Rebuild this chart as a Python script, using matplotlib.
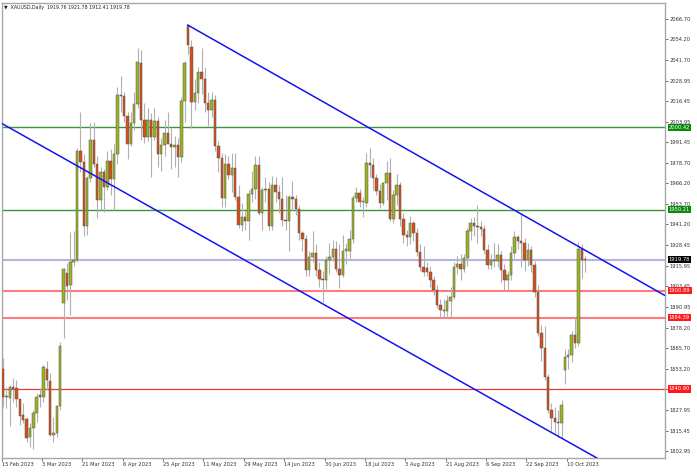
import numpy as np
import matplotlib.pyplot as plt
from matplotlib.transforms import blended_transform_factory

# daily OHLC, 15 Feb 2023 .. 17 Oct 2023 (one entry per bar)
opens = [1853.0, 1835.7, 1835.1, 1841.8, 1841.6, 1834.5, 1824.9, 1822.3, 1811.7, 1816.8,
         1826.3, 1837.1, 1835.7, 1853.2, 1845.9, 1812.7, 1813.7, 1830.4, 1893.4, 1911.3,
         1904.2, 1918.0, 1919.5, 1986.2, 1979.0, 1940.0, 1969.5, 1993.0, 1978.0, 1956.0,
         1973.0, 1964.0, 1980.0, 1969.0, 1984.0, 2020.0, 2019.5, 2007.5, 1990.5, 2003.3,
         2014.6, 2039.9, 2004.9, 1994.7, 2004.9, 1994.3, 2004.5, 1984.0, 1989.6, 1997.0,
         1990.0, 1988.5, 1989.5, 1982.5, 2016.6, 2062.2, 2049.6, 2016.0, 2021.5, 2034.4,
         2030.0, 2015.0, 2011.0, 2017.0, 1989.0, 1982.0, 1957.5, 1978.0, 1971.3, 1975.5,
         1958.0, 1941.0, 1946.0, 1943.0, 1959.7, 1963.0, 1977.4, 1948.0, 1962.2, 1963.0,
         1940.0, 1965.5, 1961.0, 1957.0, 1944.0, 1943.0, 1958.0, 1957.0, 1950.4, 1935.7,
         1932.1, 1913.4, 1921.5, 1923.5, 1913.4, 1907.7, 1907.3, 1919.5, 1921.5, 1926.0,
         1914.0, 1910.3, 1925.2, 1925.2, 1932.1, 1957.1, 1960.2, 1955.0, 1954.5, 1978.5,
         1977.4, 1969.3, 1961.6, 1954.0, 1966.3, 1972.4, 1944.3, 1959.1, 1965.2, 1944.3,
         1934.7, 1933.7, 1941.8, 1936.2, 1924.6, 1915.4, 1914.4, 1912.3, 1907.3, 1901.2,
         1892.0, 1889.0, 1888.5, 1894.5, 1897.0, 1915.4, 1917.0, 1914.0, 1920.5, 1937.5,
         1942.0, 1940.0, 1939.8, 1938.5, 1925.6, 1916.4, 1919.5, 1918.8, 1922.5, 1913.4,
         1907.3, 1910.3, 1923.5, 1933.7, 1931.0, 1929.7, 1919.5, 1925.6, 1916.4, 1900.2,
         1874.7, 1865.6, 1848.3, 1827.9, 1822.9, 1820.8, 1819.8, 1852.4, 1860.5, 1861.5,
         1873.7, 1868.6, 1926.5, 1919.76]
highs = [1859.5, 1842.2, 1843.0, 1847.3, 1846.3, 1835.0, 1832.0, 1823.9, 1819.8, 1828.0,
         1838.1, 1841.2, 1855.4, 1858.1, 1850.4, 1823.9, 1831.0, 1869.7, 1914.4, 1917.4,
         1936.8, 1937.0, 1987.6, 2010.0, 1984.0, 1971.0, 2003.0, 2003.5, 1983.0, 1976.0,
         1975.0, 1986.0, 1987.0, 1990.0, 2025.0, 2032.0, 2022.0, 2010.0, 2010.0, 2022.0,
         2048.6, 2047.6, 2015.0, 2012.0, 2009.0, 2012.0, 2007.0, 1994.0, 2005.0, 2010.0,
         2000.0, 1995.0, 1994.0, 2019.0, 2041.0, 2063.0, 2053.7, 2030.0, 2037.0, 2048.6,
         2037.0, 2022.0, 2022.0, 2020.0, 1992.0, 1985.0, 1984.0, 1983.0, 1985.0, 1985.0,
         1965.0, 1954.0, 1949.5, 1962.0, 1974.0, 1983.0, 1983.0, 1964.0, 1970.0, 1967.0,
         1971.0, 1970.0, 1965.0, 1970.0, 1959.0, 1959.0, 1968.0, 1959.0, 1953.0, 1937.0,
         1935.0, 1925.0, 1937.0, 1929.0, 1918.0, 1913.0, 1922.0, 1930.0, 1932.0, 1931.0,
         1929.0, 1935.0, 1930.0, 1938.0, 1959.0, 1964.0, 1963.0, 1958.0, 1984.6, 1987.6,
         1982.0, 1972.0, 1966.0, 1967.0, 1980.0, 1982.0, 1962.0, 1972.0, 1967.0, 1948.0,
         1938.0, 1946.5, 1943.0, 1939.0, 1929.0, 1928.0, 1918.0, 1916.0, 1910.0, 1904.0,
         1896.0, 1896.0, 1898.0, 1903.0, 1918.0, 1922.0, 1923.0, 1923.0, 1939.0, 1945.0,
         1946.0, 1953.0, 1943.0, 1941.0, 1929.0, 1923.0, 1930.0, 1929.0, 1925.0, 1917.0,
         1913.0, 1928.0, 1937.0, 1935.0, 1948.0, 1933.0, 1930.0, 1928.0, 1919.0, 1904.0,
         1880.0, 1879.0, 1850.0, 1832.0, 1830.0, 1828.0, 1834.0, 1865.0, 1865.0, 1876.0,
         1885.0, 1930.5, 1929.5, 1921.78]
lows = [1830.0, 1829.0, 1818.2, 1833.0, 1830.0, 1818.8, 1819.8, 1808.6, 1805.6, 1804.0,
        1820.9, 1830.0, 1833.1, 1840.2, 1812.3, 1808.6, 1811.7, 1828.0, 1871.7, 1895.0,
        1885.9, 1916.0, 1918.5, 1973.0, 1934.0, 1935.0, 1967.0, 1976.0, 1945.0, 1950.0,
        1949.0, 1962.0, 1959.0, 1950.0, 1978.0, 2010.0, 2004.0, 1981.0, 1989.0, 1999.0,
        2012.0, 1992.7, 1991.0, 1992.0, 1970.0, 1993.0, 1976.0, 1974.0, 1983.0, 1991.0,
        1975.0, 1976.0, 1970.0, 1979.0, 2004.0, 2045.0, 2000.0, 2011.0, 2015.0, 2021.0,
        2010.0, 2001.0, 2007.0, 1986.0, 1973.0, 1952.0, 1952.0, 1969.0, 1961.0, 1956.0,
        1939.0, 1937.0, 1938.0, 1932.0, 1955.0, 1957.0, 1947.0, 1938.0, 1955.0, 1938.0,
        1938.0, 1955.0, 1948.0, 1940.0, 1938.0, 1925.0, 1950.0, 1947.0, 1932.0, 1925.0,
        1910.0, 1910.0, 1918.0, 1910.0, 1903.0, 1894.0, 1902.0, 1911.0, 1919.0, 1912.0,
        1902.2, 1909.0, 1917.0, 1920.0, 1930.0, 1955.0, 1952.0, 1946.0, 1952.0, 1970.0,
        1962.0, 1959.0, 1951.0, 1953.0, 1956.0, 1943.0, 1942.0, 1953.0, 1940.0, 1930.0,
        1928.0, 1929.0, 1931.0, 1922.0, 1913.0, 1910.0, 1910.0, 1903.0, 1898.0, 1890.0,
        1885.0, 1885.0, 1884.0, 1885.0, 1896.0, 1911.0, 1907.0, 1912.0, 1916.0, 1932.0,
        1934.0, 1930.0, 1934.0, 1923.0, 1914.0, 1914.0, 1915.0, 1915.0, 1906.0, 1901.2,
        1901.0, 1907.0, 1921.0, 1926.0, 1915.0, 1913.0, 1916.0, 1912.0, 1897.0, 1873.0,
        1858.0, 1846.0, 1826.0, 1815.0, 1814.0, 1811.7, 1811.0, 1844.0, 1853.0, 1857.0,
        1866.0, 1867.0, 1908.3, 1912.41]
closes = [1835.7, 1836.5, 1841.8, 1840.5, 1834.5, 1824.3, 1821.9, 1810.7, 1816.8, 1826.3,
          1836.1, 1835.7, 1854.0, 1846.3, 1812.7, 1813.7, 1830.4, 1867.0, 1913.8, 1903.6,
          1918.0, 1919.5, 1986.2, 1979.0, 1940.0, 1969.5, 1993.0, 1978.0, 1956.0, 1973.0,
          1964.0, 1980.0, 1969.0, 1984.0, 2020.0, 2019.5, 2007.5, 1990.5, 2003.3, 2014.6,
          2040.5, 2004.9, 1994.7, 2004.9, 1994.3, 2004.5, 1984.0, 1989.6, 1997.0, 1990.0,
          1988.5, 1989.5, 1982.5, 2016.6, 2039.5, 2050.6, 2016.0, 2021.5, 2034.4, 2030.0,
          2015.0, 2011.0, 2017.0, 1989.0, 1982.0, 1957.5, 1978.0, 1971.3, 1975.5, 1958.0,
          1941.0, 1946.0, 1943.0, 1959.7, 1963.0, 1977.4, 1948.0, 1962.2, 1963.0, 1940.0,
          1965.5, 1961.0, 1957.0, 1944.0, 1943.0, 1958.0, 1957.0, 1950.4, 1935.7, 1932.1,
          1913.4, 1921.5, 1923.5, 1913.4, 1907.7, 1907.3, 1919.5, 1921.5, 1926.0, 1914.0,
          1910.3, 1925.2, 1926.0, 1932.1, 1957.1, 1960.2, 1955.0, 1955.5, 1978.5, 1977.4,
          1969.3, 1961.6, 1954.0, 1966.3, 1972.4, 1944.3, 1959.1, 1965.2, 1944.3, 1934.7,
          1933.7, 1941.8, 1936.2, 1924.6, 1915.4, 1912.3, 1912.3, 1907.3, 1901.2, 1892.0,
          1889.0, 1888.5, 1894.5, 1897.0, 1915.4, 1917.0, 1914.0, 1920.5, 1937.5, 1942.0,
          1940.0, 1939.8, 1938.5, 1925.6, 1916.4, 1919.5, 1918.8, 1922.5, 1913.4, 1907.3,
          1910.3, 1923.5, 1933.7, 1931.0, 1929.7, 1919.5, 1925.6, 1916.4, 1900.2, 1874.7,
          1865.6, 1848.3, 1827.9, 1822.9, 1820.8, 1819.8, 1831.0, 1860.5, 1861.5, 1873.7,
          1868.6, 1926.5, 1919.76, 1919.78]

# date labels every 12 bars
date_ticks = [0, 12, 24, 36, 48, 60, 72, 84, 96, 108, 120, 132, 144, 156, 168]
date_labels = ['15 Feb 2023', '3 Mar 2023', '21 Mar 2023', '6 Apr 2023', '25 Apr 2023',
               '11 May 2023', '29 May 2023', '14 Jun 2023', '30 Jun 2023', '18 Jul 2023',
               '3 Aug 2023', '21 Aug 2023', '6 Sep 2023', '22 Sep 2023', '10 Oct 2023']

price_ticks = [2066.70, 2054.20, 2041.70, 2028.95, 2016.45, 2003.95, 1991.45, 1978.70,
               1966.20, 1953.70, 1941.20, 1928.45, 1915.95, 1903.45, 1890.95, 1878.20,
               1865.70, 1853.20, 1840.70, 1827.95, 1815.45, 1802.95]

# horizontal levels: value, line colour, line width, tag colour
levels = [2000.42, 1950.21, 1919.78, 1900.89, 1884.39, 1840.90]
level_colors = ['#3a963a', '#3a963a', '#b4b4e4', '#ff7b7b', '#ff7b7b', '#e83a3a']
level_widths = [1.0, 1.0, 1.5, 1.5, 1.5, 0.9]
tag_colors = ['#0a8a0a', '#0a8a0a', '#000000', '#ff1a1a', '#ff1a1a', '#ff1a1a']

# channel lines (bar index, price)
upper_line = [(54.9, 2062.86), (196.6, 1898.0)]
lower_line = [(-0.45, 2002.9), (176.5, 1798.7)]

header = '\u25bc  XAUUSD,Daily  1919.76 1921.78 1912.41 1919.78'

fig = plt.figure(figsize=(6.97, 4.73), dpi=100)
ax = fig.add_axes([1.5 / 697, (473 - 458) / 473, 663 / 697, 455 / 473])

o = np.array(opens)
h = np.array(highs)
l = np.array(lows)
c = np.array(closes)
x = np.arange(len(o))
up = c >= o

bull = '#9cb41e'
bear = '#d5501c'

ax.vlines(x, l, h, color='#b0b0b0', lw=0.8, zorder=2)
body_lo = np.minimum(o, c)
body_h = np.maximum(np.abs(c - o), 0.6)
ax.bar(x[up], body_h[up], bottom=body_lo[up], width=0.72, color=bull,
       edgecolor='#555555', linewidth=0.35, zorder=3)
ax.bar(x[~up], body_h[~up], bottom=body_lo[~up], width=0.72, color=bear,
       edgecolor='#555555', linewidth=0.35, zorder=3)

for lv, lc, lw in zip(levels, level_colors, level_widths):
    ax.axhline(lv, color=lc, lw=lw, zorder=1)

for pts in (upper_line, lower_line):
    ax.plot([p[0] for p in pts], [p[1] for p in pts], color='#1414f0', lw=1.1, zorder=4)

ax.set_xlim(-0.45, 196.6)
ax.set_ylim(1798.7, 2076.3)

ax.yaxis.tick_right()
ax.set_yticks(price_ticks)
ax.set_yticklabels(['%.2f' % p for p in price_ticks])
ax.set_xticks(np.array(date_ticks) - 0.45)
ax.set_xticklabels(date_labels, ha='left')
ax.tick_params(axis='both', labelsize=3.7, colors='#333333', length=2, width=0.5, pad=1)
ax.tick_params(axis='y', pad=1.5)
for sp in ax.spines.values():
    sp.set_color('#a8a8a8')
    sp.set_linewidth(1.0)

tr = blended_transform_factory(ax.transAxes, ax.transData)
for lv, tc in zip(levels, tag_colors):
    ax.text(1.0065, lv, '%.2f' % lv, transform=tr, fontsize=3.7, color='white',
            ha='left', va='center', clip_on=False, zorder=6,
            bbox=dict(boxstyle='square,pad=0.25', fc=tc, ec='none'))

fig.text(4 / 697, 1 - 7 / 473, header, fontsize=3.4, color='#222222',
         ha='left', va='center')

fig.savefig('out.png', dpi=100)
